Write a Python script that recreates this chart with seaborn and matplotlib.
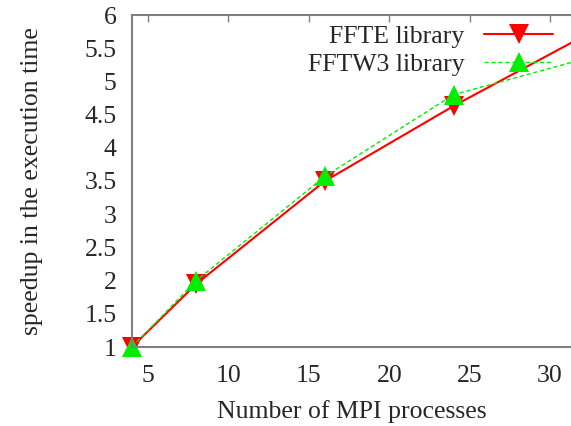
import matplotlib
matplotlib.use("Agg")
import matplotlib.pyplot as plt
import seaborn as sns
import pandas as pd

procs = [4, 8, 16, 24, 32]
ffte = [1.0, 1.95, 3.5, 4.63, 5.67]
fftw3 = [1.0, 2.0, 3.57, 4.8, 5.33]
series_names = ["FFTE library", "FFTW3 library"]

sns.set_style("white")
plt.rcParams['font.family'] = ['Liberation Serif', 'DejaVu Serif']

df = pd.DataFrame({
    "procs": procs * 2,
    "speedup": ffte + fftw3,
    "lib": [series_names[0]] * len(procs) + [series_names[1]] * len(procs),
})

FS = 18.5
fig = plt.figure(figsize=(5.71, 4.26), dpi=100)
ax = fig.add_axes([132 / 571, 79 / 426, 1 - 132 / 571, 332 / 426])

sns.lineplot(data=df[df.lib == series_names[0]], x="procs", y="speedup", ax=ax,
             color="#ff0000", lw=1.5, marker="v", markersize=14,
             markeredgewidth=0, label=series_names[0], clip_on=False)
sns.lineplot(data=df[df.lib == series_names[1]], x="procs", y="speedup", ax=ax,
             color="#00ee00", lw=1.0, marker="^", markersize=14,
             markeredgewidth=0, linestyle=(0, (3, 2)), label=series_names[1],
             clip_on=False)

ax.set_xlim(4, 31.3)
ax.set_ylim(1, 6)
ax.set_xticks([5, 10, 15, 20, 25, 30])
ax.set_yticks([1, 1.5, 2, 2.5, 3, 3.5, 4, 4.5, 5, 5.5, 6])
ax.set_yticklabels(["1", "1.5", "2", "2.5", "3", "3.5", "4", "4.5", "5", "5.5", "6"])
ax.set_xlabel("Number of MPI processes", fontsize=FS, labelpad=9)
ax.set_ylabel("speedup in the execution time", fontsize=FS, labelpad=30)
ax.tick_params(axis="both", direction="in", length=5, width=1, color="#808080",
               labelsize=FS, top=True, right=False)
ax.tick_params(axis="x", pad=13)
ax.tick_params(axis="y", pad=11)
for side in ["left", "bottom", "top"]:
    ax.spines[side].set_color("#808080")
    ax.spines[side].set_linewidth(1.5)
ax.spines["right"].set_visible(False)

leg = ax.legend(loc="upper right", markerfirst=False, frameon=False, fontsize=FS,
                handlelength=2.7, borderaxespad=0.0, labelspacing=0.2,
                handletextpad=0.75, bbox_to_anchor=(0.983, 1.0))

fig.savefig("out.png", dpi=100)
